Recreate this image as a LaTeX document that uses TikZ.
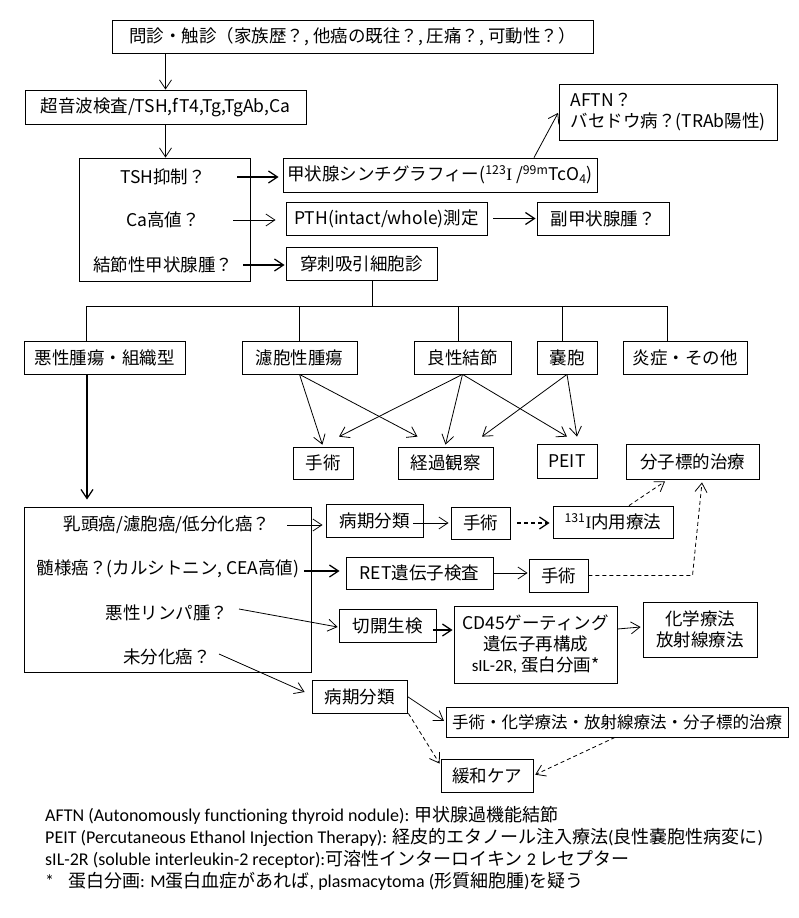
\documentclass[tikz,border=0pt]{standalone}
\usepackage{fontspec}
\setmainfont{Noto Sans CJK JP}
\newfontfamily\lat{Carlito}
\newfontfamily\ser{Liberation Serif}
\usetikzlibrary{arrows.meta,calc}
\newcommand\fs{\fontsize{17.5}{21}\selectfont}
\newcommand\fns{\fontsize{18}{22}\selectfont}
\begin{document}
\begin{tikzpicture}[x=1pt,y=-1pt,
  box/.style={draw, line width=0.8pt, inner sep=0pt, align=center, font=\fs},
  lbl/.style={inner sep=0pt, font=\fs},
  fn/.style={inner sep=0pt, anchor=west, font=\fns},
  ln/.style={line width=0.8pt},
  arr/.style={line width=0.8pt, -{Straight Barb[length=9pt,width=12pt]}},
  tarr/.style={arr, line width=1.3pt},
  darr/.style={arr, dash pattern=on 4pt off 3pt},
  tdarr/.style={arr, line width=1.3pt, dash pattern=on 4pt off 3pt}]
\useasboundingbox (0,0) rectangle (799,918);
% top
\node[box, minimum width=481pt, minimum height=33pt] (q1) at (352.5,36.5) {問診・触診（家族歴？, 他癌の既往？, 圧痛？, 可動性？）};
\node[box, minimum width=281pt, minimum height=34pt] (us) at (165.5,107) {超音波検査/TSH,fT4,Tg,TgAb,Ca};
\node[box, minimum width=171pt, minimum height=123pt] (tsh) at (164.5,219.5) {};
\node[lbl] (t1) at (163,177) {TSH抑制？};
\node[lbl] (t2) at (163,220) {Ca高値？};
\node[lbl] (t3) at (163,265) {結節性甲状腺腫？};
\node[box, minimum width=314pt, minimum height=34pt] (scin) at (440,175) {甲状腺シンチグラフィー(\textsuperscript{123}{\ser I} /\textsuperscript{99m}TcO\textsubscript{4})};
\node[box, minimum width=201pt, minimum height=33pt] (pth) at (386.5,218.5) {PTH(intact/whole)測定};
\node[box, minimum width=132pt, minimum height=33pt] (para) at (603,218.5) {副甲状腺腫？};
\node[box, minimum width=151pt, minimum height=33pt] (fna) at (361.5,263.5) {穿刺吸引細胞診};
\node[box, minimum width=218pt, minimum height=56pt, align=left] (aftn) at (668,112) {AFTN？\\バセドウ病？(TRAb陽性)};
% row 1
\node[box, minimum width=161pt, minimum height=33pt] (mal) at (104.5,357.5) {悪性腫瘍・組織型};
\node[box, minimum width=115pt, minimum height=33pt] (fol) at (299.5,357.5) {濾胞性腫瘍};
\node[box, minimum width=97pt, minimum height=33pt] (ben) at (462.5,357.5) {良性結節};
\node[box, minimum width=60pt, minimum height=33pt] (cyst) at (567,357.5) {嚢胞};
\node[box, minimum width=124pt, minimum height=33pt] (inf) at (685,357.5) {炎症・その他};
% row 2
\node[box, minimum width=60pt, minimum height=32pt] (sur1) at (323,463) {手術};
\node[box, minimum width=95pt, minimum height=32pt] (obs) at (445.5,463) {経過観察};
\node[box, minimum width=60pt, minimum height=34pt] (peit) at (567,461) {PEIT};
\node[box, minimum width=133pt, minimum height=35pt] (mol) at (692.5,461.5) {分子標的治療};
% malignant block
\node[box, minimum width=287pt, minimum height=165pt] (box4) at (167.5,589.5) {};
\node[lbl] (b1) at (167,525) {乳頭癌/濾胞癌/低分化癌？};
\node[lbl] (b2) at (168,569) {髄様癌？(カルシトニン, CEA高値)};
\node[lbl] (b3) at (167,613) {悪性リンパ腫？};
\node[lbl] (b4) at (167,657) {未分化癌？};
\node[box, minimum width=97pt, minimum height=33pt] (stage1) at (374.5,520.5) {病期分類};
\node[box, minimum width=59pt, minimum height=32pt] (sur2) at (480.5,523) {手術};
\node[box, minimum width=120pt, minimum height=32pt] (i131) at (613,522) {\textsuperscript{131}{\ser I}内用療法};
\node[box, minimum width=147pt, minimum height=32pt] (ret) at (419.5,573) {RET遺伝子検査};
\node[box, minimum width=59pt, minimum height=33pt] (sur3) at (558.5,575.5) {手術};
\node[box, minimum width=97pt, minimum height=33pt] (bio) at (387.5,625.5) {切開生検};
\node[box, minimum width=163pt, minimum height=77pt] (cd45) at (535.5,644.5) {CD45ゲーティング\\遺伝子再構成\\{\lat\fontsize{17}{20}\selectfont sIL-2R,} 蛋白分画*};
\node[box, minimum width=114pt, minimum height=55pt] (chem) at (700,629.5) {化学療法\\放射線療法};
\node[box, minimum width=95pt, minimum height=33pt] (stage2) at (359.5,696.5) {病期分類};
\node[box, minimum width=342pt, minimum height=30pt, font=\fontsize{16.5}{20}\selectfont] (multi) at (617,722) {手術・化学療法・放射線療法・分子標的治療};
\node[box, minimum width=92pt, minimum height=33pt] (pal) at (487,775.5) {緩和ケア};
% footnotes
\node[fn] (f1) at (45,815) {{\lat AFTN (Autonomously functioning thyroid nodule):} 甲状腺過機能結節};
\node[fn] (f2) at (45,837) {{\lat PEIT (Percutaneous Ethanol Injection Therapy):} 経皮的エタノール注入療法{\lat (}良性嚢胞性病変に{\lat )}};
\node[fn] (f3) at (45,859) {{\lat sIL-2R (soluble interleukin-2 receptor):}可溶性インターロイキン {\lat 2} レセプター};
\node[fn] (f4) at (45,881) {{\lat *}\hspace{14pt}蛋白分画{\lat :} {\lat M}蛋白血症があれば{\lat ,} {\lat plasmacytoma (}形質細胞腫{\lat )}を疑う};
% connectors top
\draw[arr] (q1.south -| us.north) -- (us.north);
\draw[arr] (us.south) -- (us.south |- tsh.north);
\draw[tarr, shorten >=4pt] ([xshift=74pt]t1.center) -- (t1.center -| scin.west);
\draw[arr, shorten >=10pt] ([xshift=70pt]t2.center) -- (t2.center -| pth.west);
\draw[tarr, shorten >=1pt] ([xshift=80pt]t3.center) -- (t3.center -| fna.west);
\draw[tarr, shorten <=6pt, shorten >=1pt] (pth.east) -- (para.west);
\draw[arr, shorten >=1pt] ([xshift=94pt]scin.north) -- (aftn.west);
% tree
\coordinate (tj) at ($(fna.south)+(10.5,26)$);
\draw[ln] ([xshift=10.5pt]fna.south) -- (tj);
\draw[ln] ([xshift=-18.5pt]mal.north) |- (tj) -| ([xshift=-18pt]inf.north);
\draw[ln] (fol.north |- tj) -- (fol.north);
\draw[ln] ([xshift=-4.5pt]ben.north |- tj) -- ([xshift=-4.5pt]ben.north);
\draw[ln] ([xshift=-5pt]cyst.north |- tj) -- ([xshift=-5pt]cyst.north);
% benign arrows
\draw[arr, shorten >=2pt] (fol.south) -- (sur1.north);
\draw[arr] (fol.south) -- ([xshift=-28pt,yshift=10pt]obs.north);
\draw[arr] (ben.south) -- ([xshift=16pt,yshift=10pt]sur1.north);
\draw[arr] (ben.south) -- ([yshift=2pt]obs.north);
\draw[arr] (ben.south) -- ([yshift=7pt]peit.north);
\draw[arr] (cyst.south) -- ([xshift=36.5pt,yshift=10pt]obs.north);
\draw[arr] (cyst.south) -- ([xshift=10pt,yshift=7pt]peit.north);
% malignant arrows
\draw[tarr, shorten >=7pt] ([xshift=-17.5pt]mal.south) -- ([xshift=-17.5pt]mal.south |- box4.north);
\draw[arr, shorten >=3pt] ([xshift=120pt]b1.center) -- (b1.center -| stage1.west);
\draw[arr, shorten >=2pt] ($(stage1.east |- sur2.west)+(-10,0)$) -- (sur2.west);
\draw[tdarr, shorten <=7pt, shorten >=3pt] (sur2.east) -- (sur2.east -| i131.west);
\draw[darr] ([xshift=16pt]i131.north) -- ([xshift=-27.5pt,yshift=-2pt]mol.south);
\draw[tarr, shorten >=6pt] ([xshift=136pt,yshift=-2pt]b2.center) -- ([yshift=-2pt]b2.center -| ret.west);
\draw[arr, shorten >=1pt] (ret.east) -- (ret.east -| sur3.west);
\draw[darr] (sur3.east) -- (sur3.east -| mol.south) -- ([xshift=9.5pt,yshift=-3pt]mol.south);
\draw[arr] ([xshift=72pt,yshift=4pt]b3.center) -- ([xshift=-1pt,yshift=-1.5pt]bio.west);
\draw[tarr] ($(bio.east)+(-3,4.5)$) -- ($(bio.east -| cd45.west)+(-1,4.5)$);
\draw[arr] ($(cd45.east)+(0,-15.5)$) -- ($(chem.west)+(-2,-2.5)$);
\draw[arr] ($(b4.center)+(52,-3)$) -- ($(stage2.west)+(-7,-4.5)$);
\draw[arr, shorten >=2pt] (stage2.east) -- (multi.west);
\draw[darr] ($(stage2.south east)+(1,0)$) -- ($(pal.north west)+(-1,5)$);
\draw[darr, shorten >=2pt] ($(multi.south)+(-2,0)$) -- (pal.east);
\end{tikzpicture}
\end{document}
